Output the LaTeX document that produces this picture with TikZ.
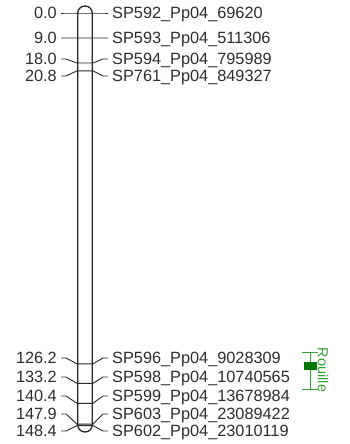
\documentclass[tikz,border=0pt]{standalone}
\usepackage{fontspec}
\setmainfont{Liberation Sans}
\definecolor{txt}{RGB}{45,45,45}
\definecolor{ln}{RGB}{40,40,40}
\definecolor{qtlbox}{RGB}{0,120,0}
\definecolor{qtlline}{RGB}{50,160,50}
\begin{document}
\begin{tikzpicture}[x=1pt,y=-1pt,
  lbl/.style={font=\fontsize{16.3}{18}\selectfont, text=txt, inner sep=0pt},
  conn/.style={draw=ln, line width=0.9pt},
  chrom/.style={draw=ln, line width=1.3pt, rounded corners=7.3pt, minimum width=14.6pt, minimum height=426pt, inner sep=0pt},
  qtl/.style={draw=qtlline, line width=1pt}]
\useasboundingbox (0,0) rectangle (349,444);
\node[chrom] (chr) at (85,219) {};
\foreach \i/\cm/\ly/\nm/\num in {
  1/0.0/13/SP592\_Pp04\_69620/0.0,
  2/9.0/38/SP593\_Pp04\_511306/9.0,
  3/18.0/59/SP594\_Pp04\_795989/18.0,
  4/20.8/76/SP761\_Pp04\_849327/20.8,
  5/126.2/358/SP596\_Pp04\_9028309/126.2,
  6/133.2/377/SP598\_Pp04\_10740565/133.2,
  7/140.4/396/SP599\_Pp04\_13678984/140.4,
  8/147.9/414/SP603\_Pp04\_23089422/147.9,
  9/148.4/431/SP602\_Pp04\_23010119/148.4}{
  \pgfmathsetmacro{\my}{13+\cm*2.78}
  \node[lbl, anchor=base east] (l\i) at (57,\ly+5.8) {\num};
  \node[lbl, anchor=base west] (r\i) at (112,\ly+5.8) {\nm};
  \coordinate (a\i) at (61,\ly);
  \coordinate (b\i) at (66,\ly);
  \coordinate (c\i) at (chr.west |- 0,\my);
  \coordinate (d\i) at (chr.east |- 0,\my);
  \coordinate (e\i) at (103,\ly);
  \coordinate (f\i) at (108,\ly);
  \draw[conn] (a\i) -- (b\i) -- (c\i) -- (d\i) -- (e\i) -- (f\i);
}
% QTL
\coordinate (qt) at (310,352);
\coordinate (qb) at (310,389);
\draw[qtl] (qt) -- (qb);
\draw[qtl] ([xshift=-8]qt) -- ([xshift=8]qt);
\draw[qtl] ([xshift=-8]qb) -- ([xshift=8]qb);
\node[fill=qtlbox, draw=qtlbox, minimum width=12pt, minimum height=7pt, inner sep=0pt] (qbox) at (310,365.5) {};
\node[font=\fontsize{14.5}{16}\selectfont, text=qtlline, rotate=-90, inner sep=0pt] (qlab) at (323,370) {Rouille};
\end{tikzpicture}
\end{document}
